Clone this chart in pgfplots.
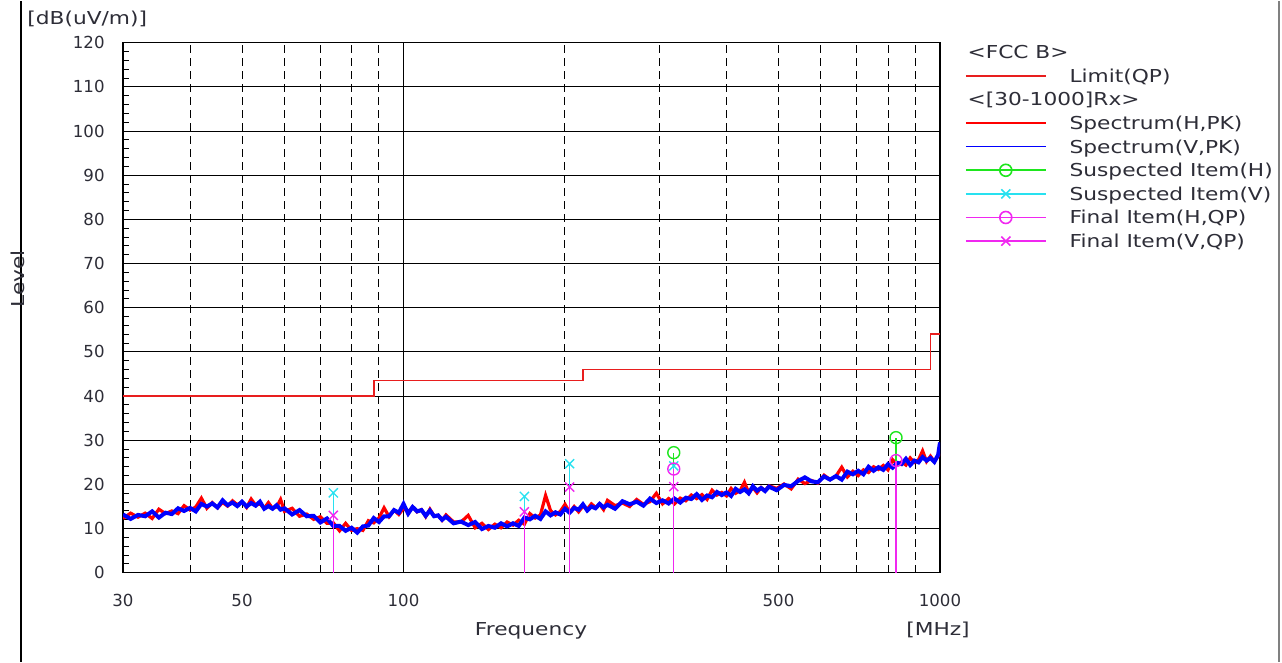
\documentclass[border=0pt]{standalone}
\usepackage{pgfplots}
\pgfplotsset{compat=1.18}
\usepackage{fontspec}
\setmainfont{DejaVu Sans}
\newfontfamily\gfont[FakeStretch=1.22]{DejaVu Sans}
\definecolor{txt}{RGB}{45,45,55}
\definecolor{limred}{RGB}{232,30,30}
\definecolor{specred}{RGB}{255,0,0}
\definecolor{specblue}{RGB}{0,0,255}
\definecolor{suspgreen}{RGB}{30,230,30}
\definecolor{suspcyan}{RGB}{40,225,240}
\definecolor{finmag}{RGB}{240,40,240}
\newcommand{\fs}{\gfont\fontsize{8.9pt}{11pt}\selectfont}
\newcommand{\ft}{\fontsize{8.3pt}{10pt}\selectfont}
\begin{document}
\begin{tikzpicture}
\path (0,0) rectangle (641pt,330.5pt);
\draw[black, line width=0.6pt] (10.5pt,0) -- (10.5pt,330.5pt);
\draw[gray, line width=0.8pt] (639.5pt,0) -- (639.5pt,330.5pt);
\begin{axis}[
  set layers, axis on top=false,
  at={(61.5pt,44.5pt)}, anchor=south west,
  width=408.5pt, height=265pt, scale only axis,
  xmode=log, xmin=30, xmax=1000, ymin=0, ymax=120,
  xtick={30,50,100,500,1000}, xticklabels={30,50,100,500,1000},
  minor xtick={40,50,60,70,80,90,200,300,400,500,600,700,800,900},
  extra x ticks={100}, extra x tick labels={},
  extra x tick style={grid=major, major tick length=0pt},
  ytick={0,10,...,120},
  yticklabels={0,10,20,30,40,50,60,70,80,90,100,110,120},
  minor y tick num=4,
  xminorgrids=true, ymajorgrids=true,
  major grid style={black, line width=0.5pt, solid},
  minor grid style={black, line width=0.5pt, dash pattern=on 4pt off 2.5pt},
  major tick length=0pt, minor tick length=3pt,
  tick align=inside, xtick pos=bottom, ytick pos=left,
  tick style={black, line width=0.5pt},
  axis line style={black, line width=0.6pt},
  xticklabel style={font=\ft, text=txt, anchor=center, inner sep=0pt, yshift=-14pt},
  yticklabel style={font=\ft, text=txt, anchor=east, inner sep=0pt, xshift=-9pt},
  legend image code/.code={\draw[mark repeat=2,mark phase=2,#1] plot coordinates {(0pt,0pt)(20pt,0pt)(40pt,0pt)};},
  legend cell align=left,
  legend style={draw=none, fill=none, at={(rel axis cs:1,1)}, anchor=north west,
    xshift=12.5pt, inner sep=0pt, outer sep=0pt, row sep=2.3pt, font=\fs, text=txt,
    nodes={inner sep=0pt, text height=8pt, text depth=1.5pt},
    /tikz/every odd column/.append style={column sep=11.5pt}},
]
% Limit (QP)
\addplot[limred, line width=0.8pt, const plot mark left, forget plot] coordinates {
(30,40) (88,43.5) (216,46) (960,54) (1000,54)};
% Spectrum H (red)
\addplot[specred, line width=1.6pt, forget plot] coordinates {
(30,12.3)(31,13.5)(32,12.6)(33,13.5)(34,12.3)(35,14.4)(36,13.4)(37,14.0)(38,13.4)(39,15.2)
(40,14.2)(41,14.9)(42,16.9)(43,14.6)(44,15.9)(45,14.7)(46,15.9)(47,15.1)(48,16.3)(49,15.4)
(50,16.1)(51,14.8)(52,16.7)(53,15.3)(54,15.6)(55,14.6)(56,15.9)(57,14.6)(58,14.9)(59,16.6)
(60,13.9)(62,14.6)(64,12.8)(66,13.3)(68,12.1)(70,12.7)(72,11.2)(74,11.3)(76,9.5)(78,11.2)
(80,9.6)(82,10.0)(84,9.6)(86,11.8)(88,11.3)(90,12.4)(92,14.7)(94,12.7)(96,14.2)(98,13.2)
(100,14.6)(102,13.8)(104,14.9)(106,13.8)(108,14.3)(110,12.7)(112,14.4)(114,12.9)(116,13.0)(118,11.9)
(120,13.1)(124,11.5)(128,11.5)(132,13.0)(136,10.2)(140,11.2)(144,9.8)(148,11.0)(152,10.2)(156,11.5)
(160,10.8)(164,11.9)(168,11.0)(172,13.4)(176,12.4)(180,13.1)(184,17.5)(188,14.1)(192,13.1)(196,13.9)
(200,15.5)(204,13.7)(208,15.0)(212,13.8)(216,15.1)(220,14.4)(224,15.6)(228,14.8)(232,15.5)(236,14.3)
(240,16.4)(248,15.2)(256,15.8)(264,15.0)(272,16.6)(280,15.5)(288,16.1)(296,18.0)(304,15.6)(312,16.8)
(320,15.6)(328,16.9)(336,16.3)(344,17.6)(352,16.8)(360,17.7)(368,16.6)(376,18.7)(384,17.6)(392,18.2)
(400,17.4)(408,19.1)(416,18.0)(424,18.6)(432,20.5)(440,18.1)(448,19.3)(456,18.1)(464,19.3)(472,18.6)
(480,19.7)(496,19.1)(512,20.1)(528,19.0)(544,21.2)(560,20.2)(576,20.9)(592,20.3)(608,22.1)(624,21.1)
(640,21.9)(656,23.9)(672,21.7)(688,23.0)(704,22.0)(720,23.3)(736,22.7)(752,24.0)(768,23.4)(784,24.3)
(800,23.3)(816,25.6)(832,24.5)(848,25.1)(864,24.4)(880,26.0)(896,25.0)(912,25.6)(928,27.6)(944,25.2)
(960,26.4)(976,25.2)(992,26.4)(1000,27.0)};
% Spectrum V (blue)
\addplot[specblue, line width=2pt, forget plot] coordinates {
(30,13.2)(31,12.2)(32,13.1)(33,12.8)(34,13.9)(35,12.5)(36,13.6)(37,13.3)(38,14.6)(39,14.0)
(40,14.7)(41,13.9)(42,15.6)(43,15.0)(44,15.7)(45,14.8)(46,16.4)(47,15.3)(48,15.9)(49,15.1)
(50,16.1)(51,15.0)(52,15.8)(53,15.2)(54,16.1)(55,14.5)(56,15.1)(57,14.5)(58,15.3)(59,14.3)
(60,14.6)(62,13.2)(64,14.2)(66,12.8)(68,12.9)(70,11.4)(72,12.3)(74,10.6)(76,10.6)(78,9.5)
(80,10.2)(82,9.1)(84,10.5)(86,10.7)(88,12.4)(90,11.5)(92,12.8)(94,12.8)(96,14.2)(98,13.6)
(100,15.6)(102,13.4)(104,14.9)(106,13.9)(108,14.2)(110,12.9)(112,14.1)(114,12.8)(116,13.0)(118,12.0)
(120,12.7)(124,11.2)(128,11.6)(132,10.8)(136,11.5)(140,9.9)(144,10.6)(148,10.2)(152,11.2)(156,10.5)
(160,11.2)(164,10.6)(168,12.5)(172,12.1)(176,12.9)(180,12.2)(184,13.9)(188,13.0)(192,13.7)(196,13.2)
(200,14.5)(204,13.6)(208,14.7)(212,14.3)(216,15.5)(220,14.1)(224,15.0)(228,14.6)(232,15.6)(236,14.8)
(240,15.4)(248,14.5)(256,16.2)(264,15.5)(272,16.1)(280,15.2)(288,16.8)(296,15.8)(304,16.4)(312,15.7)
(320,16.8)(328,15.9)(336,17.0)(344,16.7)(352,17.8)(360,16.5)(368,17.5)(376,17.1)(384,18.3)(392,17.6)
(400,18.2)(408,17.4)(416,19.0)(424,18.3)(432,18.9)(440,18.0)(448,19.6)(456,18.6)(464,19.2)(472,18.5)
(480,19.5)(496,18.7)(512,19.9)(528,19.6)(544,20.8)(560,21.6)(576,20.7)(592,20.5)(608,21.8)(624,21.1)
(640,21.9)(656,21.1)(672,22.9)(688,22.3)(704,23.1)(720,22.3)(736,24.0)(752,23.1)(768,23.9)(784,23.3)
(800,24.6)(816,23.8)(832,24.9)(848,24.6)(864,25.8)(880,24.4)(896,25.4)(912,25.0)(928,26.2)(944,25.4)
(960,26.0)(976,25.1)(992,26.7)(1000,29.5)};
% Suspected Item (H)
\addplot[suspgreen, line width=0.7pt, ycomb, mark=o, mark size=3pt, forget plot] coordinates {
(319,27.2) (828,30.6)};
% Suspected Item (V)
\addplot[suspcyan, line width=0.7pt, ycomb, mark=x, mark size=3.2pt, forget plot] coordinates {
(74,18.1) (168,17.3) (204,24.7) (319,24.2)};
% Final Item (H,QP)
\addplot[finmag, line width=0.7pt, ycomb, mark=o, mark size=3pt, forget plot] coordinates {
(319,23.5) (828,25.4)};
% Final Item (V,QP)
\addplot[finmag, line width=0.7pt, ycomb, mark=x, mark size=3.2pt, forget plot] coordinates {
(74,13.0) (168,13.8) (204,19.4) (319,19.5)};
% Legend
\addlegendimage{empty legend}
\addlegendentry{\makebox[0pt][l]{\hspace*{-51.5pt}<FCC B>}}
\addlegendimage{limred, line width=0.8pt}
\addlegendentry{Limit(QP)}
\addlegendimage{empty legend}
\addlegendentry{\makebox[0pt][l]{\hspace*{-51.5pt}<[30-1000]Rx>}}
\addlegendimage{specred, line width=0.8pt}
\addlegendentry{Spectrum(H,PK)}
\addlegendimage{specblue, line width=0.8pt}
\addlegendentry{Spectrum(V,PK)}
\addlegendimage{suspgreen, line width=0.8pt, mark=o, mark size=3pt}
\addlegendentry{Suspected Item(H)}
\addlegendimage{suspcyan, line width=0.8pt, mark=x, mark size=3.2pt}
\addlegendentry{Suspected Item(V)}
\addlegendimage{finmag, line width=0.8pt, mark=o, mark size=3pt}
\addlegendentry{Final Item(H,QP)}
\addlegendimage{finmag, line width=0.8pt, mark=x, mark size=3.2pt}
\addlegendentry{Final Item(V,QP)}
\end{axis}
\node[font=\fs, text=txt, anchor=west, inner sep=0pt] at (13.5pt,321.5pt) {[dB(uV/m)]};
\node[font=\fs, text=txt, rotate=90, inner sep=0pt] at (9pt,191.5pt) {Level};
\node[font=\fs, text=txt, inner sep=0pt] at (265.5pt,15.5pt) {Frequency};
\node[font=\fs, text=txt, inner sep=0pt] at (469pt,16pt) {[MHz]};
\end{tikzpicture}
\end{document}
